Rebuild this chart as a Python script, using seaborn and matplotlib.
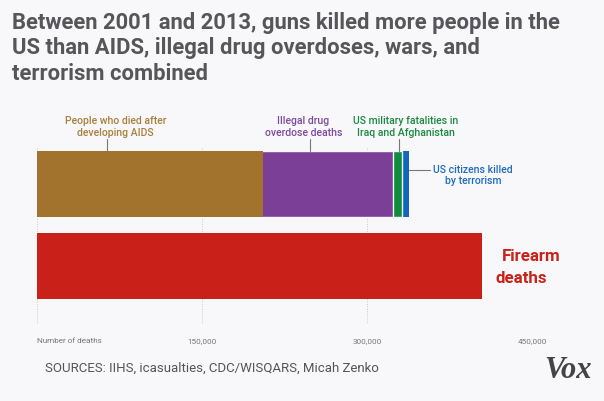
import numpy as np
import matplotlib
matplotlib.use("Agg")
import matplotlib.pyplot as plt
import seaborn as sns

# Deaths in the US, 2001-2013
categories = ["People who died after\ndeveloping AIDS",
              "Illegal drug\noverdose deaths",
              "US military fatalities in\nIraq and Afghanistan",
              "US citizens killed\nby terrorism"]
deaths = [205500, 118000, 8600, 6100]
firearm_deaths = 404500
rows = ["Other causes", "Firearm deaths"]

tick_values = [0, 150000, 300000, 450000]
tick_labels = ["Number of deaths", "150,000", "300,000", "450,000"]

colors = ["#a2732c", "#7b3f98", "#0f8c3f", "#1067bd"]
label_colors = ["#a8803c", "#7f4a9c", "#1a8a42", "#1f6cbc"]
red = "#c9211a"
bg = "#f8f8fa"
W, H = 604, 401

sns.set_theme(style="white")
plt.rcParams["font.family"] = ["Roboto", "DejaVu Sans"]

fig = plt.figure(figsize=(W / 100, H / 100), dpi=100, facecolor=bg)
# axes: x 0 -> px 37, 450k -> px 532 ; y from px 147 to px 324
ax = fig.add_axes([37 / W, 1 - 324 / H, 495 / W, 177 / H], facecolor=bg)

bar_w = 0.807
cum = np.cumsum(deaths)
# stacked bar: draw cumulative totals from largest to smallest
for i in reversed(range(len(deaths))):
    lw = 1.0 if i in (1, 2) else 0
    sns.barplot(x=[cum[i]], y=[rows[0]], order=rows, orient="h",
                color=colors[i], width=bar_w, errorbar=None,
                edgecolor=bg, linewidth=lw, saturation=1, ax=ax)
sns.barplot(x=[firearm_deaths], y=[rows[1]], order=rows, orient="h",
            color=red, width=bar_w, errorbar=None, linewidth=0,
            saturation=1, ax=ax)

ax.set_xlim(0, 450000)
ax.set_ylim(1.715, -0.449)
ax.set_xlabel("")
ax.set_ylabel("")
ax.set_yticks([])
ax.set_xticks(tick_values)
ax.set_xticklabels(tick_labels)
ax.tick_params(axis="x", length=0, pad=10, labelsize=5.9, labelcolor="#777777")
ax.get_xticklabels()[0].set_ha("left")
ax.grid(axis="x", color="#c8c8c8", linestyle=(0, (1, 1.5)), linewidth=0.7)
ax.set_axisbelow(True)
sns.despine(ax=ax, left=True, bottom=True)


def px2x(px):
    return (px - 37) / 495 * 450000


def py2y(py):
    return (py - 183.7) / 81.8


top_edge = -bar_w / 2
# labels above the stacked bar, with short leader lines
label_pos = [(115.5, 107.3), (303.3, 310), (405.5, 399)]
for i, (cx, lx) in enumerate(label_pos):
    ax.text(px2x(cx), py2y(127), categories[i], ha="center", va="center",
            fontsize=7.6, fontweight="medium", color=label_colors[i],
            linespacing=1.2, clip_on=False)
    ax.plot([px2x(lx), px2x(lx)], [py2y(139.3), top_edge], color="#777777",
            lw=0.8, clip_on=False)

ax.text(px2x(473), py2y(175.5), categories[3], ha="center", va="center",
        fontsize=7.6, fontweight="medium", color=label_colors[3],
        linespacing=1.2, clip_on=False)
ax.plot([cum[3], px2x(430)], [py2y(170), py2y(170)], color="#777777",
        lw=0.8, clip_on=False)

ax.text(px2x(502), py2y(256.7), "Firearm", ha="left", va="center",
        fontsize=12.2, fontweight="bold", color=red, clip_on=False)
ax.text(px2x(496), py2y(278.3), "deaths", ha="left", va="center",
        fontsize=12.2, fontweight="bold", color=red, clip_on=False)

title_lines = ["Between 2001 and 2013, guns killed more people in the",
               "US than AIDS, illegal drug overdoses, wars, and",
               "terrorism combined"]
for line, ty in zip(title_lines, [22.7, 48.3, 74]):
    fig.text(11.7 / W, 1 - ty / H, line, ha="left", va="center",
             fontsize=15.8, fontweight="bold", color="#56565a")

fig.text(45 / W, 1 - 368 / H, "SOURCES: IIHS, icasualties, CDC/WISQARS, Micah Zenko",
         ha="left", va="center", fontsize=9.5, color="#555555")
fig.text(592 / W, 1 - 370 / H, "Vox", ha="right", va="center", fontsize=22,
         fontweight="bold", fontstyle="italic", family="Liberation Serif",
         color="#444444")

fig.savefig("out.png", dpi=100, facecolor=bg)
